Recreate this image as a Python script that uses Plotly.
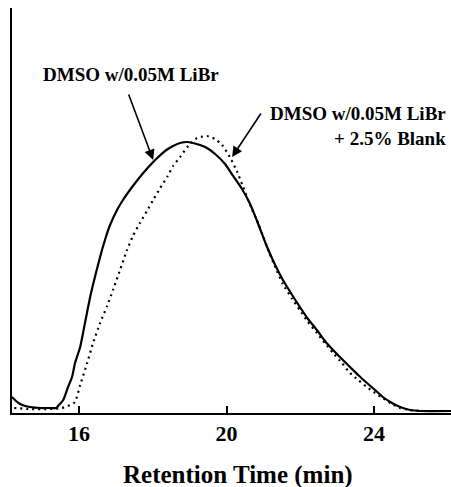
import plotly.graph_objects as go

# Retention time (min) and detector response (arbitrary units)
solid_x = [14.18, 14.29, 14.40, 14.54, 14.67, 14.94, 15.21, 15.38, 15.43, 15.57, 15.70, 15.81, 15.89,
           16.03, 16.16, 16.30, 16.43, 16.57, 16.71, 16.84, 17.03, 17.19, 17.46, 17.74, 18.01, 18.12,
           18.33, 18.55, 18.74, 18.93, 19.09, 19.28, 19.47, 19.69, 19.96, 20.18, 20.42, 20.64, 20.85,
           21.10, 21.32, 21.53, 21.78, 21.99, 22.21, 22.45, 22.67, 22.89, 23.13, 23.35, 23.57, 23.81,
           24.03, 24.24, 24.49, 24.71, 24.98, 25.25, 26.09]
solid_y = [16, 12, 9, 7, 6, 5, 5, 5, 7, 13, 26, 36, 50,
           66, 90, 116, 136, 156, 174, 188, 203, 213, 227, 240, 251, 255,
           262, 267, 270, 271, 270, 268, 265, 259, 249, 237, 224, 209, 190,
           166, 148, 133, 118, 106, 94, 83, 72, 63, 54, 46, 38, 30,
           23, 16, 10, 6, 3, 2, 2]

dot_x = [14.24, 14.67, 15.21, 15.54, 15.76, 15.89, 16.03, 16.22, 16.38, 16.57, 16.76, 16.92, 17.11,
         17.30, 17.46, 17.65, 17.84, 18.01, 18.20, 18.39, 18.55, 18.74, 18.96, 19.20, 19.47, 19.69,
         19.88, 20.09, 20.28, 20.45, 20.64, 20.82, 20.96, 21.10, 21.32, 21.53, 21.78, 21.99, 22.21,
         22.45, 22.67, 22.89, 23.13, 23.35, 23.57, 23.81, 24.03, 24.24, 24.49, 24.71, 24.98, 25.25]
dot_y = [5, 4, 4, 5, 8, 11, 28, 50, 70, 90, 107, 123, 143,
         163, 177, 190, 202, 213, 225, 236, 247, 256, 267, 275, 277, 274,
         268, 256, 242, 226, 208, 193, 180, 166, 146, 129, 114, 103, 91,
         80, 70, 60, 50, 40, 33, 26, 20, 15, 9, 5, 3, 2]

tick_vals = [16, 20, 24]
tick_text = ["16", "20", "24"]
label_a = "DMSO w/0.05M LiBr"
label_b = "DMSO w/0.05M LiBr<br>+ 2.5% Blank"
x_title = "Retention Time (min)"

fig = go.Figure()
fig.add_trace(go.Scatter(x=dot_x, y=dot_y, mode="lines",
                         line=dict(color="black", width=2.2, dash="2px,4px",
                                   shape="spline", smoothing=0.5)))
fig.add_trace(go.Scatter(x=solid_x, y=solid_y, mode="lines",
                         line=dict(color="black", width=2.2, shape="spline", smoothing=0.5)))

serif = "Liberation Serif"
fig.add_annotation(x=18.01, y=253, ax=17.33, ay=320, xref="x", yref="y", axref="x", ayref="y",
                   text="", showarrow=True, arrowhead=2, arrowsize=1.3, arrowwidth=1.6,
                   arrowcolor="black", standoff=0)
fig.add_annotation(x=20.15, y=256, ax=20.96, ay=301, xref="x", yref="y", axref="x", ayref="y",
                   text="", showarrow=True, arrowhead=2, arrowsize=1.3, arrowwidth=1.6,
                   arrowcolor="black", standoff=0)
fig.add_annotation(x=17.41, y=339, xref="x", yref="y", text=label_a, showarrow=False,
                   xanchor="center", yanchor="middle",
                   font=dict(family=serif, size=19, color="black", weight="bold"))
fig.add_annotation(x=26.0, y=312, xref="x", yref="y", text=label_b, showarrow=False,
                   xanchor="right", yanchor="top", align="right",
                   font=dict(family=serif, size=19, color="black", weight="bold"))
fig.add_annotation(x=0.5, y=0, xref="paper", yref="paper", yshift=-46, text=x_title,
                   showarrow=False, xanchor="center", yanchor="top", xshift=6,
                   font=dict(family=serif, size=25, color="black", weight="bold"))

fig.update_layout(
    width=451, height=487,
    margin=dict(l=12, r=0, t=8, b=74),
    paper_bgcolor="white", plot_bgcolor="white",
    showlegend=False,
    xaxis=dict(range=[14.18, 26.09], showgrid=False, zeroline=False,
               showline=True, linecolor="black", linewidth=2,
               ticks="inside", ticklen=7, tickwidth=1.5, tickcolor="black",
               tickvals=tick_vals, ticktext=tick_text,
               tickfont=dict(family=serif, size=22, color="black", weight="bold")),
    yaxis=dict(range=[0, 405], showgrid=False, zeroline=False,
               showline=True, linecolor="black", linewidth=2,
               showticklabels=False, ticks=""),
)

fig.write_html("out.html", config={"displayModeBar": False},
               post_script="document.body.style.margin='0';document.body.style.overflow='hidden';")
